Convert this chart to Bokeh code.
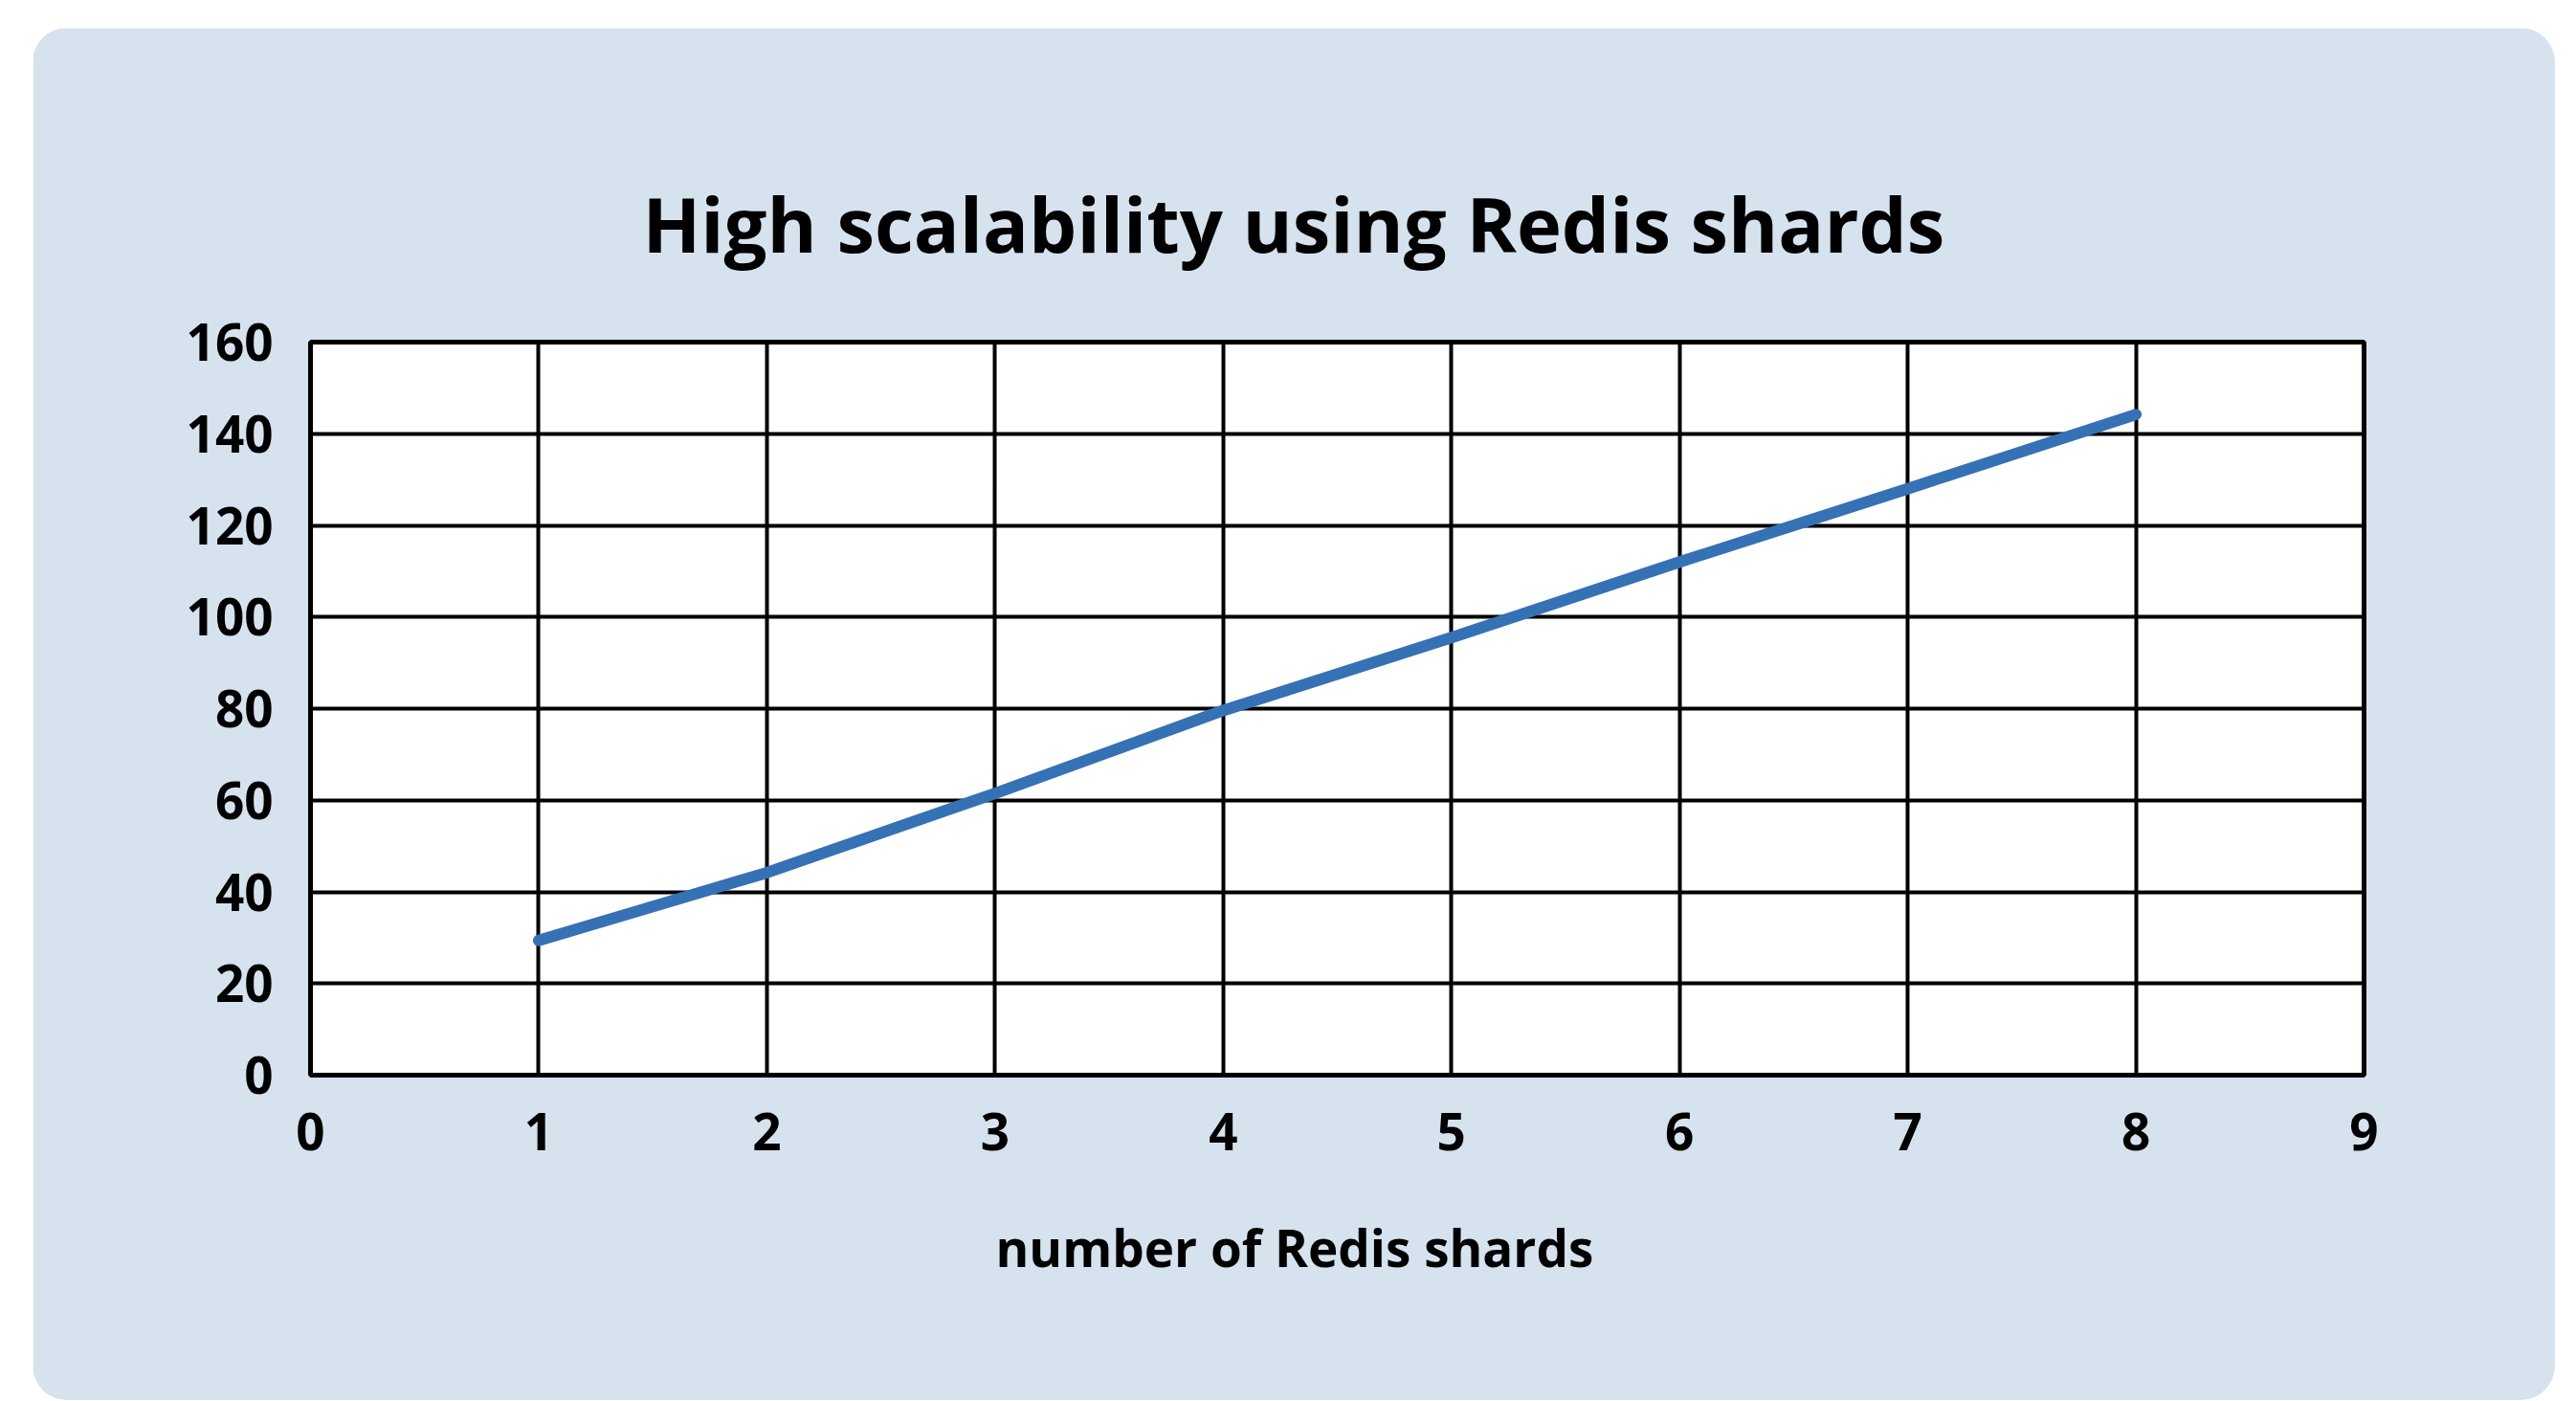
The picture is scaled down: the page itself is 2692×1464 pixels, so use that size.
from bokeh.plotting import figure
from bokeh.models import Range1d, Title, FixedTicker
from bokeh.embed import file_html
from bokeh.resources import INLINE

# ---- data ----
shards = [1, 2, 3, 4, 5, 6, 7, 8]
throughput = [29.4, 44.2, 61.5, 79.6, 95.5, 112, 128, 144.2]
x_ticks = [0, 1, 2, 3, 4, 5, 6, 7, 8, 9]
y_ticks = [0, 20, 40, 60, 80, 100, 120, 140, 160]
title_text = "High scalability using Redis shards"
x_label_text = "number of Redis shards"

PANEL = "#d6e2ee"
LINE = "#3571b5"
FONT = "Open Sans"

W, H = 2636, 1434
p = figure(width=W, height=H, output_backend="svg", toolbar_location=None,
           x_range=Range1d(x_ticks[0], x_ticks[-1]),
           y_range=Range1d(y_ticks[0], y_ticks[-1]),
           min_border_left=290, min_border_right=200,
           min_border_top=328, min_border_bottom=340,
           margin=(29, 0, 0, 34),
           styles={"border-radius": "36px", "overflow": "hidden"})

p.border_fill_color = PANEL
p.background_fill_color = "white"
p.outline_line_color = "black"
p.outline_line_width = 5

# grids
p.xgrid.ticker = FixedTicker(ticks=x_ticks)
p.ygrid.ticker = FixedTicker(ticks=y_ticks)
for g in (p.xgrid, p.ygrid):
    g.grid_line_color = "black"
    g.grid_line_width = 4
    g.grid_line_alpha = 1

# axes
p.xaxis.ticker = FixedTicker(ticks=x_ticks)
p.yaxis.ticker = FixedTicker(ticks=y_ticks)
for ax in (p.xaxis, p.yaxis):
    ax.axis_line_color = None
    ax.major_tick_line_color = None
    ax.minor_tick_line_color = None
    ax.major_tick_in = 0
    ax.major_tick_out = 0
    ax.major_label_text_font = FONT
    ax.major_label_text_font_style = "bold"
    ax.major_label_text_font_size = "53px"
    ax.major_label_text_color = "black"
p.xaxis.major_label_standoff = 39
p.yaxis.major_label_standoff = 39

# data line
p.line(shards, throughput, line_color=LINE, line_width=12, line_cap="round", line_join="round")

# title (centred on the panel, not on the frame)
p.add_layout(Title(text=title_text, align="left", offset=347, standoff=142,
                   text_font=FONT, text_font_style="bold", text_font_size="79.5px",
                   text_color="black"), "above")
# x axis label as a below title
p.add_layout(Title(text=x_label_text, align="left", offset=716, standoff=120,
                   text_font=FONT, text_font_style="bold", text_font_size="53px",
                   text_color="black"), "below")

open("out.html", "w").write(file_html(p, INLINE))
